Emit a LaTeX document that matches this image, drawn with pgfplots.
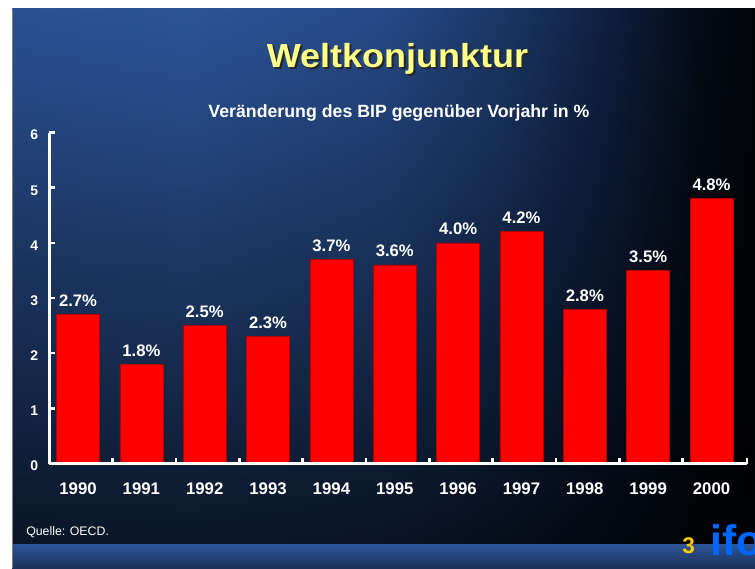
\documentclass[border=0pt]{standalone}
\usepackage{pgfplots}
\pgfplotsset{compat=1.18}
\usepackage{fontspec}
\setmainfont{Liberation Sans}
\usetikzlibrary{fadings}

\definecolor{h0}{HTML}{2A5193}
\definecolor{h1}{HTML}{2C5598}
\definecolor{h2}{HTML}{264A87}
\definecolor{h3}{HTML}{1B3766}
\definecolor{h4}{HTML}{0F2040}
\definecolor{h5}{HTML}{060C18}
\definecolor{h6}{HTML}{020408}
\definecolor{strip1}{HTML}{2C5599}
\definecolor{strip2}{HTML}{1B3158}
\definecolor{titleyellow}{HTML}{FFFF88}
\definecolor{pageyellow}{HTML}{FFCC00}
\definecolor{ifoblue}{HTML}{0066FF}
\definecolor{barred}{HTML}{FF0000}
\definecolor{baredge}{HTML}{B00000}

\pgfdeclarehorizontalshading{bgh}{100bp}{color(0bp)=(h0); color(25bp)=(h0); color(37bp)=(h1); color(50bp)=(h2); color(58bp)=(h3); color(65bp)=(h4); color(71bp)=(h5); color(75bp)=(h6); color(100bp)=(h6)}
\tikzfading[name=vfade, top color=transparent!100, middle color=transparent!66, bottom color=transparent!26]

\begin{document}
\begin{tikzpicture}
\begin{scope}[x=0.75pt,y=0.75pt]
\useasboundingbox (0,0) rectangle (755,568);
\clip (0,0) rectangle (755,568);
\fill[white] (0,0) rectangle (755,568);
\shade[shading=bgh] (12,0) rectangle (755,559);
\fill[black, path fading=vfade] (12,23) rectangle (755,559);
\shade[top color=strip1, bottom color=strip2] (12,0) rectangle (755,24);
\draw[gray, line width=0.75pt] (12,0) -- (12,559);
% title
\node[anchor=base, inner sep=0, xscale=1.08, font=\bfseries\fontsize{25}{30}\selectfont, text=black!85] at (399.5,498.3) {Weltkonjunktur};
\node[anchor=base, inner sep=0, xscale=1.08, font=\bfseries\fontsize{25}{30}\selectfont, text=titleyellow] at (397.5,500.3) {Weltkonjunktur};
% subtitle
\node[anchor=base, inner sep=0, font=\bfseries\fontsize{13.3}{16}\selectfont, text=white] at (399,450) {Veränderung des BIP gegenüber Vorjahr in \%};
% source
\node[anchor=base west, inner sep=0, font=\fontsize{9.25}{11}\selectfont, text=white] at (26,33) {Quelle: OECD.};
% page number and logo
\node[anchor=base west, inner sep=0, font=\bfseries\fontsize{17}{20}\selectfont, text=pageyellow] at (682,15) {3};
\node[anchor=base west, inner sep=0, font=\bfseries\fontsize{32}{36}\selectfont, text=ifoblue] at (710,13) {ifo};
\end{scope}
\begin{axis}[
  at={(37.125pt,78.375pt)}, anchor=south west,
  scale only axis, width=523.125pt, height=248.25pt,
  xmin=-0.45, xmax=10.56, ymin=0, ymax=6,
  axis on top,
  axis lines*=left,
  axis line style={white, line width=1.9pt},
  ybar, bar width=32.25pt,
  xtick={0,...,10},
  xticklabels={1990,1991,1992,1993,1994,1995,1996,1997,1998,1999,2000},
  minor xtick={0.545,1.545,2.545,3.545,4.545,5.545,6.545,7.545,8.545,9.545,10.56},
  ytick={0,...,6},
  tick align=inside,
  major tick length=4.5pt, minor tick length=4.5pt,
  major x tick style={draw=none},
  every tick/.style={white, line width=1.9pt},
  minor x tick style={white, line width=1.9pt},
  y tick style={white, line width=1.9pt},
  /pgf/number format/assume math mode=true,
  yticklabel style={text=white, font=\bfseries\fontsize{10.5}{12}\selectfont, anchor=east, xshift=-5pt, yshift=-2pt},
  xticklabel style={text=white, font=\bfseries\fontsize{12.6}{15}\selectfont, anchor=base, yshift=-22.9pt},
  nodes near coords={\pgfmathprintnumber[fixed,fixed zerofill,precision=1]{\pgfplotspointmeta}\%},
  nodes near coords style={text=white, font=\bfseries\fontsize{12.5}{15}\selectfont, anchor=base, yshift=6pt},
]
\addplot[fill=barred, draw=baredge, line width=0.5pt] coordinates {(0,2.7) (1,1.8) (2,2.5) (3,2.3) (4,3.7) (5,3.6) (6,4.0) (7,4.2) (8,2.8) (9,3.5) (10,4.8)};
\end{axis}
\end{tikzpicture}
\end{document}
